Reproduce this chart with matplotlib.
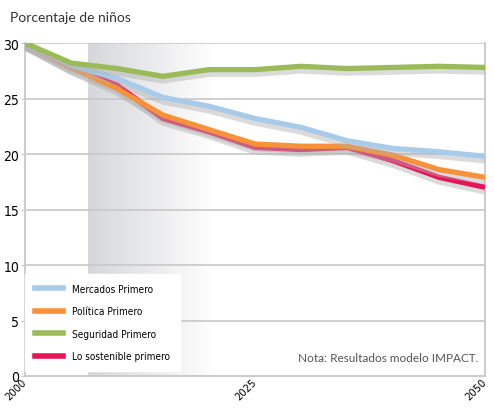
import matplotlib
matplotlib.use("Agg")
import matplotlib.pyplot as plt
import matplotlib.patheffects as pe
from matplotlib.colors import LinearSegmentedColormap
import numpy as np

years = [2000, 2005, 2010, 2015, 2020, 2025, 2030, 2035, 2040, 2045, 2050]
mercados = [30.0, 28.0, 26.8, 25.1, 24.3, 23.2, 22.4, 21.2, 20.5, 20.2, 19.8]
politica = [30.0, 27.8, 25.9, 23.5, 22.2, 20.9, 20.7, 20.7, 19.9, 18.6, 17.9]
seguridad = [30.0, 28.2, 27.7, 27.0, 27.6, 27.6, 27.9, 27.7, 27.8, 27.9, 27.8]
sostenible = [30.0, 27.8, 26.2, 23.2, 22.0, 20.6, 20.4, 20.6, 19.4, 17.9, 17.0]
names = ["Mercados Primero", "Política Primero", "Seguridad Primero", "Lo sostenible primero"]
colors = ["#a9cbea", "#f7923a", "#9bbb59", "#e8145a"]
xticks = [2000, 2025, 2050]
yticks = [0, 5, 10, 15, 20, 25, 30]

narrow = dict(family='DejaVu Sans', stretch='condensed')

fig = plt.figure(figsize=(4.94, 4.10), dpi=100)
ax = fig.add_axes([25/494, 1-377/410, 460/494, 333/410])
ax.set_xlim(2000, 2050)
ax.set_ylim(0, 30)

grad = np.linspace(0, 1, 256).reshape(1, -1)
cmap = LinearSegmentedColormap.from_list("g", ["#d6d7da", "#ffffff"])
ax.imshow(grad, extent=[2006.8, 2020.5, 0, 30], aspect='auto', cmap=cmap, zorder=0)

for y in yticks[1:]:
    ax.axhline(y, color="#c8c8c8", lw=1.2, zorder=1)

series = [sostenible, politica, mercados, seguridad]
cols = [colors[3], colors[1], colors[0], colors[2]]
for data, c in zip(series, cols):
    ax.plot(years, data, color=c, lw=3.8, solid_capstyle='butt', zorder=3,
            path_effects=[pe.SimpleLineShadow(offset=(0, -2.5), shadow_color='#b0b0b0', alpha=0.45, linewidth=5.5),
                          pe.Normal()])

ax.spines['top'].set_visible(False)
for s in ['left', 'bottom', 'right']:
    ax.spines[s].set_color('#c8c8c8')
    ax.spines[s].set_linewidth(1.3)

ax.set_xticks(xticks)
ax.set_xticklabels([str(t) for t in xticks], rotation=45, ha='right', va='center',
                   rotation_mode='anchor', fontsize=8, **narrow)
ax.set_yticks(yticks)
ax.set_yticklabels([str(t) for t in yticks], fontsize=10, **narrow)
ax.tick_params(axis='y', length=3, color='#c8c8c8', pad=1)
ax.tick_params(axis='x', length=0, pad=3)

handles = [plt.Line2D([], [], color=c, lw=4) for c in colors]
leg = ax.legend(handles, names, loc='lower left', bbox_to_anchor=(0.0, 0.015),
                prop=dict(size=7.2, **narrow), frameon=True, fancybox=False,
                edgecolor='white', framealpha=1, handlelength=2.8, labelspacing=1.25,
                borderpad=1.0, handletextpad=0.9, borderaxespad=0.0)
leg.set_zorder(5)

ax.text(0.985, 0.04, "Nota: Resultados modelo IMPACT.", transform=ax.transAxes,
        ha='right', va='bottom', fontsize=8.5, color='#555555', family=['Lato', 'DejaVu Sans'])

fig.text(10/494, 1-18/410, "Porcentaje de niños", ha='left', va='center', fontsize=10,
         color='#333333', family=['Lato', 'DejaVu Sans'])

fig.savefig("out.png", dpi=100)
